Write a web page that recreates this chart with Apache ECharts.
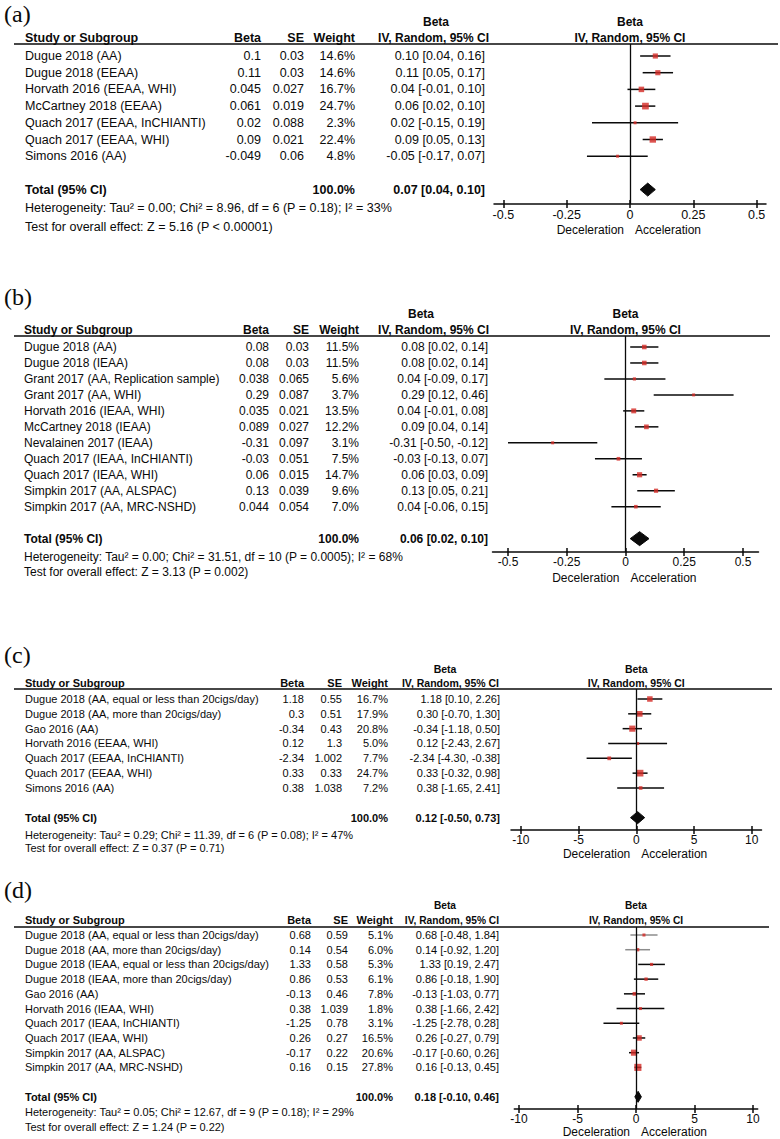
<!DOCTYPE html>
<html><head><meta charset="utf-8">
<script src="https://cdn.jsdelivr.net/npm/echarts@6/dist/echarts.min.js"></script>
<style>html,body{margin:0;padding:0;background:#fff}#c{width:780px;height:1139px}</style>
</head><body><div id="c"></div>
<script>
// ---------------- DATA ----------------
// (a)
const studiesA = ["Dugue 2018 (AA)", "Dugue 2018 (EEAA)", "Horvath 2016 (EEAA, WHI)", "McCartney 2018 (EEAA)", "Quach 2017 (EEAA, InCHIANTI)", "Quach 2017 (EEAA, WHI)", "Simons 2016 (AA)"];
const betaA = [0.1, 0.11, 0.045, 0.061, 0.02, 0.09, -0.049];
const seA = [0.03, 0.03, 0.027, 0.019, 0.088, 0.021, 0.06];
const weightA = [14.6, 14.6, 16.7, 24.7, 2.3, 22.4, 4.8];
const estA = [0.10, 0.11, 0.04, 0.06, 0.02, 0.09, -0.05];
const loA = [0.04, 0.05, -0.01, 0.02, -0.15, 0.05, -0.17];
const hiA = [0.16, 0.17, 0.10, 0.10, 0.19, 0.13, 0.07];
const totalA = [0.07, 0.04, 0.10];
const hetA = "Heterogeneity: Tau\u00b2 = 0.00; Chi\u00b2 = 8.96, df = 6 (P = 0.18); I\u00b2 = 33%";
const testA = "Test for overall effect: Z = 5.16 (P < 0.00001)";
// (b)
const studiesB = ["Dugue 2018 (AA)", "Dugue 2018 (IEAA)", "Grant 2017 (AA, Replication sample)", "Grant 2017 (AA, WHI)", "Horvath 2016 (IEAA, WHI)", "McCartney 2018 (IEAA)", "Nevalainen 2017 (IEAA)", "Quach 2017 (IEAA, InCHIANTI)", "Quach 2017 (IEAA, WHI)", "Simpkin 2017 (AA, ALSPAC)", "Simpkin 2017 (AA, MRC-NSHD)"];
const betaB = [0.08, 0.08, 0.038, 0.29, 0.035, 0.089, -0.31, -0.03, 0.06, 0.13, 0.044];
const seB = [0.03, 0.03, 0.065, 0.087, 0.021, 0.027, 0.097, 0.051, 0.015, 0.039, 0.054];
const weightB = [11.5, 11.5, 5.6, 3.7, 13.5, 12.2, 3.1, 7.5, 14.7, 9.6, 7.0];
const estB = [0.08, 0.08, 0.04, 0.29, 0.04, 0.09, -0.31, -0.03, 0.06, 0.13, 0.04];
const loB = [0.02, 0.02, -0.09, 0.12, -0.01, 0.04, -0.50, -0.13, 0.03, 0.05, -0.06];
const hiB = [0.14, 0.14, 0.17, 0.46, 0.08, 0.14, -0.12, 0.07, 0.09, 0.21, 0.15];
const totalB = [0.06, 0.02, 0.10];
const hetB = "Heterogeneity: Tau\u00b2 = 0.00; Chi\u00b2 = 31.51, df = 10 (P = 0.0005); I\u00b2 = 68%";
const testB = "Test for overall effect: Z = 3.13 (P = 0.002)";
// (c)
const studiesC = ["Dugue 2018 (AA, equal or less than 20cigs/day)", "Dugue 2018 (AA, more than 20cigs/day)", "Gao 2016 (AA)", "Horvath 2016 (EEAA, WHI)", "Quach 2017 (EEAA, InCHIANTI)", "Quach 2017 (EEAA, WHI)", "Simons 2016 (AA)"];
const betaC = [1.18, 0.3, -0.34, 0.12, -2.34, 0.33, 0.38];
const seC = [0.55, 0.51, 0.43, 1.3, 1.002, 0.33, 1.038];
const weightC = [16.7, 17.9, 20.8, 5.0, 7.7, 24.7, 7.2];
const estC = [1.18, 0.30, -0.34, 0.12, -2.34, 0.33, 0.38];
const loC = [0.10, -0.70, -1.18, -2.43, -4.30, -0.32, -1.65];
const hiC = [2.26, 1.30, 0.50, 2.67, -0.38, 0.98, 2.41];
const totalC = [0.12, -0.50, 0.73];
const hetC = "Heterogeneity: Tau\u00b2 = 0.29; Chi\u00b2 = 11.39, df = 6 (P = 0.08); I\u00b2 = 47%";
const testC = "Test for overall effect: Z = 0.37 (P = 0.71)";
// (d)
const studiesD = ["Dugue 2018 (AA, equal or less than 20cigs/day)", "Dugue 2018 (AA, more than 20cigs/day)", "Dugue 2018 (IEAA, equal or less than 20cigs/day)", "Dugue 2018 (IEAA, more than 20cigs/day)", "Gao 2016 (AA)", "Horvath 2016 (IEAA, WHI)", "Quach 2017 (IEAA, InCHIANTI)", "Quach 2017 (IEAA, WHI)", "Simpkin 2017 (AA, ALSPAC)", "Simpkin 2017 (AA, MRC-NSHD)"];
const betaD = [0.68, 0.14, 1.33, 0.86, -0.13, 0.38, -1.25, 0.26, -0.17, 0.16];
const seD = [0.59, 0.54, 0.58, 0.53, 0.46, 1.039, 0.78, 0.27, 0.22, 0.15];
const weightD = [5.1, 6.0, 5.3, 6.1, 7.8, 1.8, 3.1, 16.5, 20.6, 27.8];
const estD = [0.68, 0.14, 1.33, 0.86, -0.13, 0.38, -1.25, 0.26, -0.17, 0.16];
const loD = [-0.48, -0.92, 0.19, -0.18, -1.03, -1.66, -2.78, -0.27, -0.60, -0.13];
const hiD = [1.84, 1.20, 2.47, 1.90, 0.77, 2.42, 0.28, 0.79, 0.26, 0.45];
const totalD = [0.18, -0.10, 0.46];
const hetD = "Heterogeneity: Tau\u00b2 = 0.05; Chi\u00b2 = 12.67, df = 9 (P = 0.18); I\u00b2 = 29%";
const testD = "Test for overall effect: Z = 1.24 (P = 0.22)";

const totalWeight = 100.0;
const ticksSmall = [-0.5, -0.25, 0, 0.25, 0.5];
const ticksLarge = [-10, -5, 0, 5, 10];
const panelLabels = ["(a)", "(b)", "(c)", "(d)"];
const headers = {study: "Study or Subgroup", beta: "Beta", se: "SE", weight: "Weight", method: "IV, Random, 95% CI", effect: "Beta"};
const captions = ["Deceleration", "Acceleration"];
const totalLabel = "Total (95% CI)";

// ---------------- LAYOUT ----------------
const FONT = '"Liberation Sans", Arial, Helvetica, sans-serif';
const SERIF = '"Liberation Serif", "Times New Roman", serif';
const RED = '#d42a25';
const INK = '#0a0a0a';

const panels = [
  {studies: studiesA, beta: betaA, se: seA, weight: weightA, est: estA, lo: loA, hi: hiA, total: totalA, het: hetA, test: testA, ticks: ticksSmall,
   L: {labelY: 14, betaHeadY: 22, headY: 38, ruleY: 44, ruleRight: 778, axisY: 204, firstRow: 56, step: 16.7, totalIdx: 8, hetY: 208, testY: 227, capY: 230,
       gridLeft: 494, gridRight: 766, xLim: 0.537, fs: 12.5, hfs: 12.5, ifs: 12, tfs: 12.5, cols: {study: 25, beta: 261, se: 304, weight: 355, ci: 485, ciHead: 489, betaHead: 436}, dh: 6.5, gray: []}},
  {studies: studiesB, beta: betaB, se: seB, weight: weightB, est: estB, lo: loB, hi: hiB, total: totalB, het: hetB, test: testB, ticks: ticksSmall,
   L: {labelY: 297, betaHeadY: 314, headY: 330, ruleY: 336, ruleRight: 770, axisY: 552, firstRow: 347, step: 15.97, totalIdx: 12, hetY: 557, testY: 572, capY: 578,
       gridLeft: 492.5, gridRight: 758.5, xLim: 0.566, fs: 12, hfs: 12, ifs: 12, tfs: 12, cols: {study: 24, beta: 269, se: 309, weight: 359, ci: 488, ciHead: 489, betaHead: 421}, dh: 7, gray: []}},
  {studies: studiesC, beta: betaC, se: seC, weight: weightC, est: estC, lo: loC, hi: hiC, total: totalC, het: hetC, test: testC, ticks: ticksLarge,
   L: {labelY: 655, betaHeadY: 669, headY: 683, ruleY: 689, ruleRight: 772, axisY: 830, firstRow: 699, step: 14.83, totalIdx: 8, hetY: 835, testY: 848, capY: 854,
       gridLeft: 511, gridRight: 761.5, xLim: 10.85, fs: 11, hfs: 11, ifs: 10.5, tfs: 12, cols: {study: 25, beta: 304, se: 342, weight: 388, ci: 500, ciHead: 499, betaHead: 445}, dh: 6, gray: []}},
  {studies: studiesD, beta: betaD, se: seD, weight: weightD, est: estD, lo: loD, hi: hiD, total: totalD, het: hetD, test: testD, ticks: ticksLarge,
   L: {labelY: 890, betaHeadY: 905, headY: 920, ruleY: 927, ruleRight: 769, axisY: 1109, firstRow: 935, step: 14.71, totalIdx: 11, hetY: 1112, testY: 1127, capY: 1132,
       gridLeft: 514.3, gridRight: 757.7, xLim: 10.4, fs: 11, hfs: 11, ifs: 10.2, tfs: 12, cols: {study: 25, beta: 311, se: 348, weight: 393, ci: 499, ciHead: 499, betaHead: 445}, dh: 5.5, gray: [0, 1]}}
];

const W = 780, H = 1139;
function font(size, bold, fam) { return (bold ? 'bold ' : 'normal ') + size + 'px ' + (fam || FONT); }
function txt(x, y, text, align, f, fill) {
  return {type: 'text', x: x, y: y, silent: true,
          style: {text: text, font: f, fill: fill || INK, align: align, verticalAlign: 'middle', textAlign: align, textVerticalAlign: 'middle'}};
}
function fmtCI(e, l, h) { return e.toFixed(2) + ' [' + l.toFixed(2) + ', ' + h.toFixed(2) + ']'; }

const grids = [], xAxes = [], yAxes = [], series = [], graphics = [];

panels.forEach((P, p) => {
  const L = P.L;
  const yMin = (L.ruleY - L.firstRow) / L.step;
  const yMax = (L.axisY - L.firstRow) / L.step;
  grids.push({left: L.gridLeft, width: L.gridRight - L.gridLeft, top: L.ruleY, height: L.axisY - L.ruleY, containLabel: false});
  xAxes.push({type: 'value', gridIndex: p, min: -L.xLim, max: L.xLim, position: 'bottom',
    axisLine: {show: true, onZero: false, lineStyle: {color: INK, width: 1.5}},
    axisTick: {show: true, length: 4, customValues: P.ticks, lineStyle: {color: INK, width: 1.5}},
    axisLabel: {show: true, customValues: P.ticks, fontSize: L.tfs, fontFamily: FONT, color: INK, margin: 4},
    splitLine: {show: false}});
  xAxes.push({type: 'value', gridIndex: p, min: -L.xLim, max: L.xLim, position: 'bottom',
    axisLine: {show: false, onZero: false},
    axisTick: {show: true, inside: true, length: 4, customValues: P.ticks, lineStyle: {color: INK, width: 1.5}},
    axisLabel: {show: false}, splitLine: {show: false}});
  yAxes.push({type: 'value', gridIndex: p, inverse: true, min: yMin, max: yMax, show: false, splitLine: {show: false}});

  const xi = 2 * p, yi = p;

  // confidence interval whiskers
  series.push({type: 'custom', xAxisIndex: xi, yAxisIndex: yi, silent: true, clip: false, z: 3,
    data: P.studies.map((s, i) => [P.lo[i], P.hi[i], i]),
    encode: {x: [0, 1], y: 2},
    renderItem: (params, api) => {
      const i = params.dataIndex;
      const a = api.coord([api.value(0), api.value(2)]);
      const b = api.coord([api.value(1), api.value(2)]);
      return {type: 'line', shape: {x1: a[0], y1: a[1], x2: b[0], y2: b[1]},
              style: {stroke: L.gray.indexOf(i) >= 0 ? '#8c8c8c' : INK, lineWidth: 1.5}};
    }});
  // squares
  series.push({type: 'scatter', xAxisIndex: xi, yAxisIndex: yi, silent: true, z: 4,
    symbol: 'rect',
    symbolSize: v => Math.max(3, 1.35 * Math.sqrt(v[2])),
    itemStyle: {color: RED},
    data: P.studies.map((s, i) => [P.beta[i], i, P.weight[i]]),
    markLine: {silent: true, symbol: ['none', 'none'], label: {show: false}, animation: false,
      lineStyle: {color: INK, width: 1.3, type: 'solid'}, data: [{xAxis: 0}]}});
  // diamond
  series.push({type: 'custom', xAxisIndex: xi, yAxisIndex: yi, silent: true, clip: false, z: 5,
    data: [[P.total[1], P.total[0], P.total[2], L.totalIdx]],
    encode: {x: [0, 2], y: 3},
    renderItem: (params, api) => {
      const y = api.value(3);
      const l = api.coord([api.value(0), y]);
      const c = api.coord([api.value(1), y]);
      const r = api.coord([api.value(2), y]);
      return {type: 'polygon', shape: {points: [[l[0], l[1]], [c[0], c[1] - L.dh], [r[0], r[1]], [c[0], c[1] + L.dh]]},
              style: {fill: INK, stroke: INK, lineWidth: 1}};
    }});
  // table text rows
  const rows = P.studies.map((s, i) => ({name: s, beta: String(P.beta[i]), se: String(P.se[i]), w: P.weight[i].toFixed(1) + '%',
    ci: fmtCI(P.est[i], P.lo[i], P.hi[i]), bold: false, idx: i}));
  rows.push({name: totalLabel, beta: '', se: '', w: totalWeight.toFixed(1) + '%', ci: fmtCI(P.total[0], P.total[1], P.total[2]), bold: true, idx: L.totalIdx});
  series.push({type: 'custom', xAxisIndex: xi, yAxisIndex: yi, silent: true, clip: false, z: 6,
    data: rows.map(r => [0, r.idx]),
    encode: {x: 0, y: 1},
    renderItem: (params, api) => {
      const r = rows[params.dataIndex];
      const y = api.coord([0, api.value(1)])[1];
      const f = font(L.fs, r.bold);
      const C = L.cols;
      return {type: 'group', children: [
        txt(C.study, y, r.name, 'left', f),
        txt(C.beta, y, r.beta, 'right', f),
        txt(C.se, y, r.se, 'right', f),
        txt(C.weight, y, r.w, 'right', f),
        txt(C.ci, y, r.ci, 'right', f)
      ]};
    }});

  // static text & rules
  const zeroX = L.gridLeft + (0 + L.xLim) / (2 * L.xLim) * (L.gridRight - L.gridLeft);
  const hf = font(L.hfs, true);
  const inf = font(L.ifs, true);
  const C = L.cols;
  graphics.push(txt(4, L.labelY, panelLabels[p], 'left', font(24, false, SERIF)));
  graphics.push(txt(C.betaHead, L.betaHeadY, headers.beta, 'center', inf));
  graphics.push(txt(zeroX, L.betaHeadY, headers.effect, 'center', inf));
  graphics.push(txt(C.study, L.headY, headers.study, 'left', hf));
  graphics.push(txt(C.beta, L.headY, headers.beta, 'right', hf));
  graphics.push(txt(C.se, L.headY, headers.se, 'right', hf));
  graphics.push(txt(C.weight, L.headY, headers.weight, 'right', hf));
  graphics.push(txt(C.ciHead, L.headY, headers.method, 'right', inf));
  graphics.push(txt(zeroX, L.headY, headers.method, 'center', inf));
  graphics.push({type: 'line', silent: true, shape: {x1: 14, y1: L.ruleY, x2: L.ruleRight, y2: L.ruleY}, style: {stroke: INK, lineWidth: 1.5}});
  graphics.push(txt(C.study, L.hetY, P.het, 'left', font(L.fs, false)));
  graphics.push(txt(C.study, L.testY, P.test, 'left', font(L.fs, false)));
  graphics.push(txt(zeroX - 6, L.capY, captions[0], 'right', font(12, false)));
  graphics.push(txt(zeroX + 5, L.capY, captions[1], 'left', font(12, false)));
});

const chart = echarts.init(document.getElementById('c'), null, {renderer: 'svg', width: W, height: H});
chart.setOption({
  animation: false,
  backgroundColor: '#fff',
  grid: grids, xAxis: xAxes, yAxis: yAxes, series: series,
  graphic: {elements: graphics}
});
</script></body></html>
